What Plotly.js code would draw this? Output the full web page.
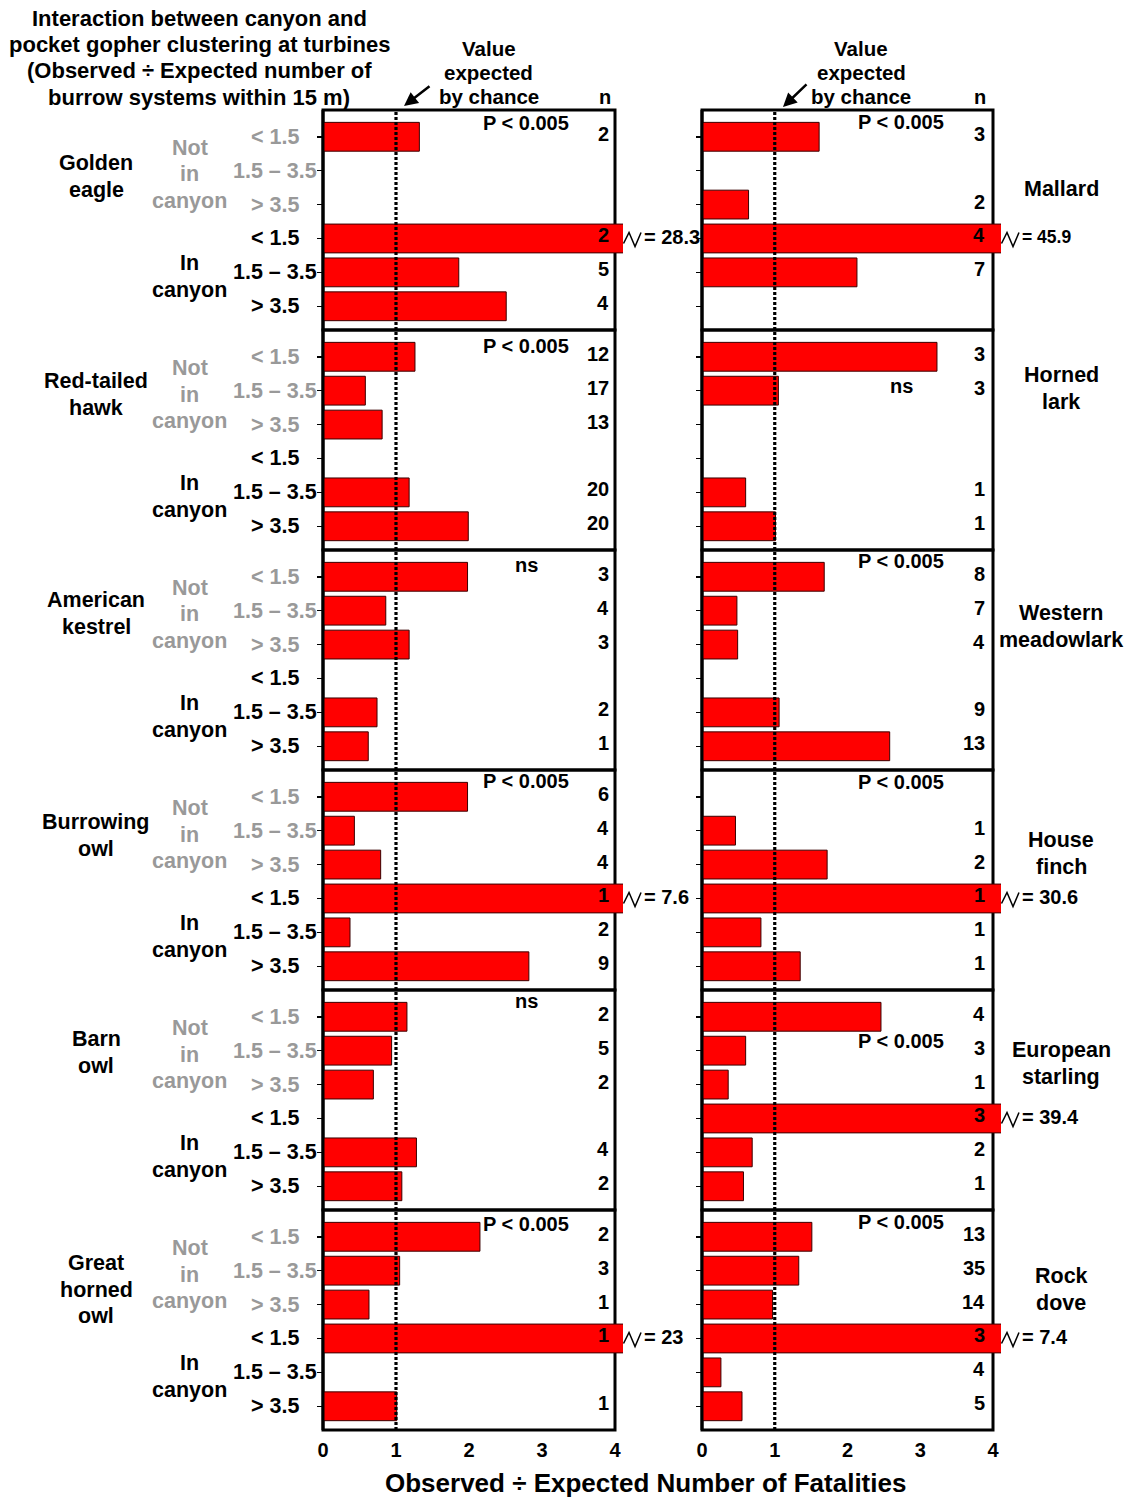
<!DOCTYPE html>
<html>
<head>
<meta charset="utf-8">
<script src="https://cdn.plot.ly/plotly-3.0.1.min.js"></script>
<style>
  html, body { margin: 0; padding: 0; background: #ffffff; }
  #chart { width: 1130px; height: 1500px; }
</style>
</head>
<body>
<div id="chart"></div>
<script>
// ---------------- DATA ----------------
const rowLabels = ['< 1.5', '1.5 – 3.5', '> 3.5', '< 1.5', '1.5 – 3.5', '> 3.5'];
const rowIndex = [0, 1, 2, 3, 4, 5];
const xTicks = [0, 1, 2, 3, 4];
const expectedValue = 1;

const leftSpecies = [['Golden', 'eagle'], ['Red-tailed', 'hawk'], ['American', 'kestrel'],
                     ['Burrowing', 'owl'], ['Barn', 'owl'], ['Great', 'horned', 'owl']];
const rightSpecies = [['Mallard'], ['Horned', 'lark'], ['Western', 'meadowlark'],
                      ['House', 'finch'], ['European', 'starling'], ['Rock', 'dove']];

const ratioGoldenEagle       = [1.32, null, null, 28.3, 1.86, 2.51];
const nGoldenEagle           = ['2', '', '', '2', '5', '4'];
const ratioRedTailedHawk     = [1.26, 0.58, 0.81, null, 1.18, 1.99];
const nRedTailedHawk         = ['12', '17', '13', '', '20', '20'];
const ratioAmericanKestrel   = [1.98, 0.86, 1.18, null, 0.74, 0.62];
const nAmericanKestrel       = ['3', '4', '3', '', '2', '1'];
const ratioBurrowingOwl      = [1.98, 0.43, 0.79, 7.6, 0.37, 2.82];
const nBurrowingOwl          = ['6', '4', '4', '1', '2', '9'];
const ratioBarnOwl           = [1.15, 0.94, 0.69, null, 1.28, 1.08];
const nBarnOwl               = ['2', '5', '2', '', '4', '2'];
const ratioGreatHornedOwl    = [2.15, 1.05, 0.63, 23, null, 1.01];
const nGreatHornedOwl        = ['2', '3', '1', '1', '', '1'];

const ratioMallard           = [1.61, null, 0.64, 45.9, 2.13, null];
const nMallard               = ['3', '', '2', '4', '7', ''];
const ratioHornedLark        = [3.23, 1.05, null, null, 0.60, 1.01];
const nHornedLark            = ['3', '3', '', '', '1', '1'];
const ratioWesternMeadowlark = [1.68, 0.48, 0.49, null, 1.06, 2.58];
const nWesternMeadowlark     = ['8', '7', '4', '', '9', '13'];
const ratioHouseFinch        = [null, 0.46, 1.72, 30.6, 0.81, 1.35];
const nHouseFinch            = ['', '1', '2', '1', '1', '1'];
const ratioEuropeanStarling  = [2.46, 0.60, 0.36, 39.4, 0.69, 0.57];
const nEuropeanStarling      = ['4', '3', '1', '3', '2', '1'];
const ratioRockDove          = [1.51, 1.33, 0.97, 7.4, 0.26, 0.55];
const nRockDove              = ['13', '35', '14', '3', '4', '5'];

const sigLeft  = ['P < 0.005', 'P < 0.005', 'ns', 'P < 0.005', 'ns', 'P < 0.005'];
const sigRight = ['P < 0.005', 'ns', 'P < 0.005', 'P < 0.005', 'P < 0.005', 'P < 0.005'];

const titleLines = ['Interaction between canyon and', 'pocket gopher clustering at turbines',
                    '(Observed ÷ Expected number of', 'burrow systems within 15 m)'];
const noteLines = ['Value', 'expected', 'by chance'];
const xAxisTitle = 'Observed ÷ Expected Number of Fatalities';

// ---------------- LAYOUT CONSTANTS ----------------
const W = 1130, H = 1500;
const FONT = 'Liberation Sans, Arial, Helvetica, sans-serif';
const PANEL_TOP0 = 110, PANEL_H = 220;
const Y_RANGE = [5.7, -0.79];
const X_MAX = 4.11;
const COLS = [
  { x0: 323, unit: 73, xa: 'x', nX: 611, sigX: 526, speciesX: 96, noteX: 489, nHeadX: 605 },
  { x0: 702, unit: 72.75, xa: 'x2', nX: 987, sigX: 901, speciesX: 1061, noteX: 861, nHeadX: 980 }
];
const speciesY = [[163, 381, 600, 822, 1039, 1263], [189, 375, 613, 840, 1050, 1276]];
const sigDy = [[13, 16, 15, 11, 11, 14], [12, 56, 11, 12, 51, 12]];

const ratios = [ratioGoldenEagle, ratioRedTailedHawk, ratioAmericanKestrel, ratioBurrowingOwl, ratioBarnOwl, ratioGreatHornedOwl,
                ratioMallard, ratioHornedLark, ratioWesternMeadowlark, ratioHouseFinch, ratioEuropeanStarling, ratioRockDove];
const counts = [nGoldenEagle, nRedTailedHawk, nAmericanKestrel, nBurrowingOwl, nBarnOwl, nGreatHornedOwl,
                nMallard, nHornedLark, nWesternMeadowlark, nHouseFinch, nEuropeanStarling, nRockDove];

const px = x => x / W;
const py = y => 1 - y / H;
const bold = (size, color) => ({ family: FONT, size: size, weight: 'bold', color: color || '#000' });

const traces = [];
const shapes = [];
const annotations = [];

function addLines(lines, cx, y0, pitch, font, xanchor) {
  lines.forEach((t, i) => {
    annotations.push({ xref: 'paper', yref: 'paper', x: px(cx), y: py(y0 + i * pitch),
      text: t, showarrow: false, xanchor: xanchor || 'center', yanchor: 'middle', font: font });
  });
}

const layout = {
  width: W, height: H,
  margin: { l: 0, r: 0, t: 0, b: 0, pad: 0 },
  paper_bgcolor: '#ffffff', plot_bgcolor: '#ffffff',
  showlegend: false,
  font: { family: FONT, color: '#000' },
  bargap: 0
};

COLS.forEach((c, ci) => {
  layout[ci === 0 ? 'xaxis' : 'xaxis2'] = {
    domain: [px(c.x0), px(c.x0 + c.unit * X_MAX)],
    range: [0, X_MAX],
    anchor: ci === 0 ? 'y6' : 'y12',
    tickvals: xTicks, ticktext: xTicks.map(String),
    ticks: '', showgrid: false, zeroline: false, showline: false,
    tickfont: bold(20), ticklabelstandoff: 6, fixedrange: true
  };
});

for (let p = 0; p < 12; p++) {
  const ci = p < 6 ? 0 : 1;
  const k = p % 6;
  const c = COLS[ci];
  const top = PANEL_TOP0 + PANEL_H * k;
  const yId = p === 0 ? 'y' : 'y' + (p + 1);
  const yKey = p === 0 ? 'yaxis' : 'yaxis' + (p + 1);
  const ratio = ratios[p];
  const n = counts[p];

  layout[yKey] = {
    domain: [py(top + PANEL_H), py(top)],
    range: Y_RANGE, anchor: c.xa,
    tickvals: rowIndex, ticks: 'outside', ticklen: 5, tickwidth: 1.5, tickcolor: '#000',
    showticklabels: false, showgrid: false, zeroline: false, showline: false, fixedrange: true
  };

  traces.push({
    type: 'bar', orientation: 'h', x: ratio, y: rowIndex,
    xaxis: c.xa, yaxis: yId, width: 0.85,
    marker: { color: '#ff0000', line: { color: '#3a0000', width: 1 } },
    hoverinfo: 'skip', showlegend: false
  });

  // frame
  shapes.push({ type: 'rect', xref: c.xa + ' domain', yref: yId + ' domain',
    x0: 0, x1: 4 / X_MAX, y0: 0, y1: 1, line: { color: '#000', width: 3 },
    fillcolor: 'rgba(0,0,0,0)', layer: 'below' });
  shapes.push({ type: 'line', xref: c.xa + ' domain', yref: yId + ' domain',
    x0: 0, x1: 0, y0: 0, y1: 1, line: { color: '#000', width: 3 }, layer: 'above' });

  // n labels
  n.forEach((t, r) => {
    if (!t) return;
    annotations.push({ xref: 'paper', yref: yId, x: px(c.nX), y: rowIndex[r], text: t,
      xanchor: 'right', yanchor: 'middle', yshift: 3, showarrow: false, font: bold(20) });
  });

  // significance
  const sig = (ci === 0 ? sigLeft : sigRight)[k];
  annotations.push({ xref: 'paper', yref: 'paper', x: px(c.sigX), y: py(top + sigDy[ci][k]),
    text: sig, xanchor: 'center', yanchor: 'middle', showarrow: false, font: bold(20) });

  // species
  const sp = (ci === 0 ? leftSpecies : rightSpecies)[k];
  addLines(sp, c.speciesX, speciesY[ci][k], 26.7, bold(21.5));

  // row labels and group labels (left column only)
  if (ci === 0) {
    rowLabels.forEach((t, r) => {
      annotations.push({ xref: 'paper', yref: yId, x: px(275), y: rowIndex[r], text: t,
        xanchor: 'center', yanchor: 'middle', showarrow: false,
        font: bold(21.5, r < 3 ? '#999999' : '#000000') });
    });
    addLines(['Not', 'in', 'canyon'], 189.5, top + 38, 26.5, bold(21.5, '#999999'));
    addLines(['In', 'canyon'], 189.5, top + 153, 27, bold(21.5));
  }

  // off-scale bars: break mark and value
  ratio.forEach((v, r) => {
    if (v === null || v <= X_MAX) return;
    const yc = top + (rowIndex[r] - Y_RANGE[1]) * PANEL_H / (Y_RANGE[0] - Y_RANGE[1]);
    const xe = c.x0 + c.unit * X_MAX;
    const pts = [[xe + 0.5, yc + 5], [xe + 6, yc - 6], [xe + 12, yc + 8], [xe + 18, yc - 6]];
    shapes.push({ type: 'path', xref: 'paper', yref: 'paper',
      path: 'M' + pts.map(q => px(q[0]) + ',' + py(q[1])).join(' L'),
      line: { color: '#000', width: 1.5 }, layer: 'above' });
    annotations.push({ xref: 'paper', yref: 'paper', x: px(xe + 19), y: py(yc - 1),
      text: '= ' + v, xanchor: 'left', yanchor: 'middle', showarrow: false,
      font: bold(ci === 1 && k === 0 ? 17.5 : 20) });
  });
}

// dotted "expected" lines
COLS.forEach(c => {
  shapes.push({ type: 'line', xref: c.xa, yref: 'paper', x0: expectedValue, x1: expectedValue,
    y0: py(PANEL_TOP0 + 6 * PANEL_H), y1: py(PANEL_TOP0),
    line: { color: '#000', width: 3.2, dash: '3px,2px' }, layer: 'above' });
});

// titles and notes
addLines(titleLines, 199, 18, 26.4, bold(22));
addLines(noteLines, COLS[0].noteX, 48, 24, bold(20.5));
addLines(noteLines, COLS[1].noteX, 49, 23.5, bold(20.5));
annotations.push({ xref: 'paper', yref: 'paper', x: px(COLS[0].nHeadX), y: py(97), text: 'n',
  showarrow: false, xanchor: 'center', yanchor: 'middle', font: bold(20) });
annotations.push({ xref: 'paper', yref: 'paper', x: px(COLS[1].nHeadX), y: py(97), text: 'n',
  showarrow: false, xanchor: 'center', yanchor: 'middle', font: bold(20) });
annotations.push({ xref: 'paper', yref: 'paper', x: px(645), y: py(1483), text: xAxisTitle,
  showarrow: false, xanchor: 'center', yanchor: 'middle', font: bold(26) });

// arrows
annotations.push({ xref: 'paper', yref: 'paper', x: px(404), y: py(106), text: '',
  showarrow: true, ax: 27, ay: -21, arrowhead: 2, arrowsize: 1.1, arrowwidth: 2.5, arrowcolor: '#000', standoff: 0 });
annotations.push({ xref: 'paper', yref: 'paper', x: px(783), y: py(107), text: '',
  showarrow: true, ax: 25, ay: -24, arrowhead: 2, arrowsize: 1.1, arrowwidth: 2.5, arrowcolor: '#000', standoff: 0 });

layout.shapes = shapes;
layout.annotations = annotations;

Plotly.newPlot('chart', traces, layout, { staticPlot: true, displayModeBar: false });
</script>
</body>
</html>
